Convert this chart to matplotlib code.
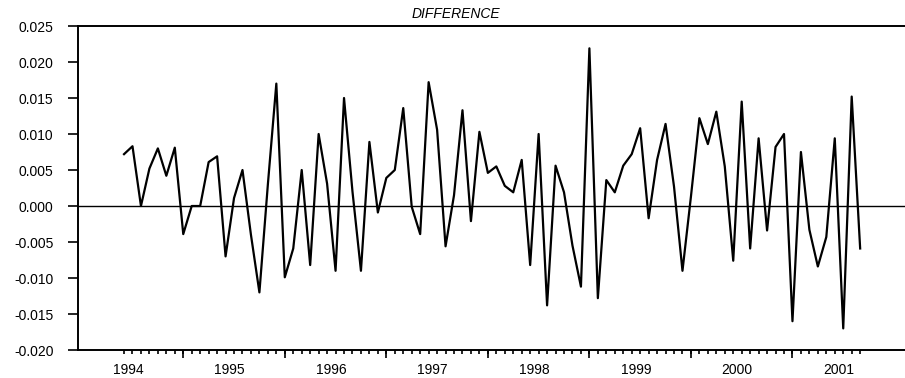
import matplotlib
matplotlib.use('Agg')
import matplotlib.pyplot as plt
import numpy as np

plt.rcParams['font.family'] = ['Liberation Sans', 'DejaVu Sans']
plt.rcParams['axes.unicode_minus'] = False

# monthly series, 1994:01 .. 2001:04
start_year = 1994
values = [
    0.0072, 0.0083, 0.0000, 0.0052, 0.0080, 0.0042, 0.0081, -0.0039, 0.0000, 0.0000, 0.0061, 0.0069,   # 1994
    -0.0070, 0.0011, 0.0050, -0.0040, -0.0120, 0.0030, 0.0170, -0.0099, -0.0059, 0.0050, -0.0082, 0.0100,  # 1995
    0.0031, -0.0090, 0.0150, 0.0020, -0.0090, 0.0089, -0.0009, 0.0039, 0.0050, 0.0136, -0.0001, -0.0039,  # 1996
    0.0172, 0.0106, -0.0056, 0.0015, 0.0133, -0.0021, 0.0103, 0.0046, 0.0055, 0.0028, 0.0019, 0.0064,  # 1997
    -0.0082, 0.0100, -0.0138, 0.0056, 0.0019, -0.0055, -0.0112, 0.0219, -0.0128, 0.0036, 0.0019, 0.0056,  # 1998
    0.0072, 0.0108, -0.0017, 0.0064, 0.0114, 0.0027, -0.0090, 0.0013, 0.0122, 0.0086, 0.0131, 0.0055,  # 1999
    -0.0076, 0.0145, -0.0059, 0.0094, -0.0034, 0.0082, 0.0100, -0.0160, 0.0075, -0.0033, -0.0084, -0.0043,  # 2000
    0.0094, -0.0170, 0.0152, -0.0059,  # 2001
]
years = list(range(1994, 2002))
yticks = [-0.020, -0.015, -0.010, -0.005, 0.000, 0.005, 0.010, 0.015, 0.020, 0.025]

t = start_year + np.arange(len(values)) / 12.0

fig = plt.figure(figsize=(9.05, 3.78), dpi=100)
ax = fig.add_axes([78 / 905, 1 - 350 / 378, 1 - 78 / 905, (350 - 26) / 378])

ax.axhline(0, color='black', lw=1.0, zorder=1)
ax.plot(t, values, color='black', lw=1.6, zorder=2)

ax.set_xlim(start_year - 5.44 / 12, start_year + 92.3 / 12)
ax.set_ylim(-0.020, 0.025)

ax.spines['right'].set_visible(False)
for s in ['left', 'top', 'bottom']:
    ax.spines[s].set_linewidth(1.4)

ax.set_yticks(yticks)
ax.set_yticklabels(['%.3f' % v for v in yticks])
ax.tick_params(axis='y', direction='out', length=7.2, width=1.2, pad=10.5, labelsize=10)

# year labels (no tick), monthly minor ticks
ax.set_xticks([y + 0.04 for y in years])
ax.set_xticklabels([str(y) for y in years])
ax.set_xticks(t, minor=True)
ax.tick_params(axis='x', which='major', length=0, pad=9, labelsize=10)
ax.tick_params(axis='x', which='minor', direction='out', length=2.8, width=1.2)

# longer ticks at August of each year
sec = ax.secondary_xaxis('bottom')
sec.set_xticks([y + 7 / 12 for y in years[:-1]])
sec.set_xticklabels([])
sec.tick_params(direction='out', length=5.5, width=1.2)
sec.spines['bottom'].set_visible(False)

fig.text(455.5 / 905, 1 - 14 / 378, 'DIFFERENCE', ha='center', va='center',
         fontsize=10, style='italic')

fig.savefig('out.png', dpi=100)
